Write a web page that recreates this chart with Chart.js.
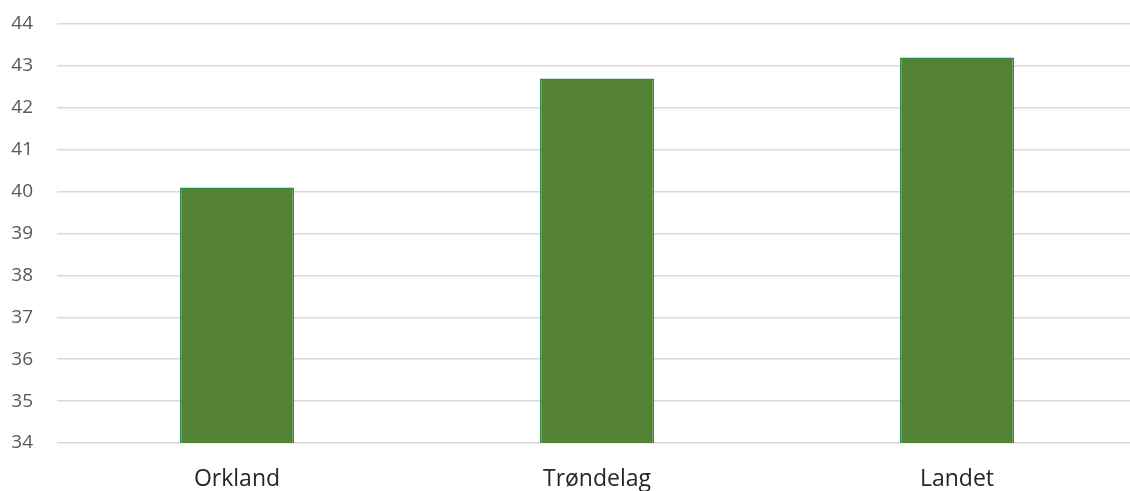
<!DOCTYPE html>
<html>
<head>
<meta charset="utf-8">
<script src="https://cdn.jsdelivr.net/npm/chart.js@4"></script>
<style>
  html, body { margin: 0; padding: 0; background: #fff; overflow: hidden; }
  #wrap { width: 1137px; height: 491px; }
</style>
</head>
<body>
<div id="wrap"><canvas id="chart"></canvas></div>
<script>
// data
const labels = ['Orkland', 'Trøndelag', 'Landet'];
const values = [40.1, 42.7, 43.2];
const yMin = 34;
const yMax = 44;

const ctx = document.getElementById('chart').getContext('2d');
new Chart(ctx, {
  type: 'bar',
  data: {
    labels: labels,
    datasets: [{
      data: values,
      backgroundColor: '#548235',
      borderColor: '#2e8b4a',
      borderWidth: 1.5,
      barPercentage: 0.317,
      categoryPercentage: 1
    }]
  },
  options: {
    responsive: true,
    maintainAspectRatio: false,
    animation: false,
    layout: { padding: { top: 24, right: 0, bottom: 0, left: 0 } },
    plugins: {
      legend: { display: false },
      tooltip: { enabled: false }
    },
    scales: {
      x: {
        grid: { display: false },
        border: { display: false },
        ticks: {
          color: '#262626',
          font: { family: 'Open Sans', size: 23 },
          padding: 15
        },
        afterFit: function(scale) { scale.height = 48; }
      },
      y: {
        min: yMin,
        max: yMax,
        ticks: {
          stepSize: 1,
          color: '#595959',
          font: { family: 'Open Sans', size: 19 },
          padding: 24
        },
        grid: { color: '#d9d9d9', lineWidth: 1.5, drawTicks: false },
        border: { display: false },
        afterFit: function(scale) {
          scale.width = 57;
          scale.paddingTop = 0; // top tick sits at 24px like the original
        }
      }
    }
  }
});
</script>
</body>
</html>
